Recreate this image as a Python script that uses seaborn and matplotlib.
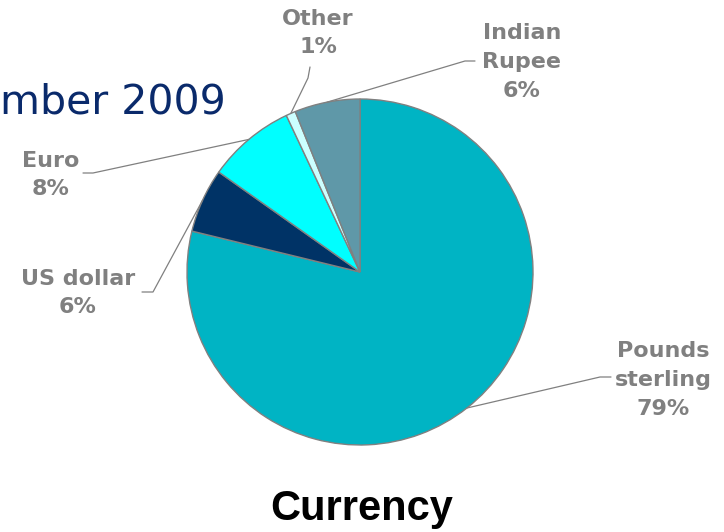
import numpy as np
import matplotlib
matplotlib.use("Agg")
import matplotlib.pyplot as plt
import seaborn as sns

# ---- data ----
categories = ["Pounds sterling", "US dollar", "Euro", "Other", "Indian Rupee"]
shares = [78.8, 6.0, 8.2, 0.9, 6.1]
label_texts = ["Pounds\nsterling\n79%", "US dollar\n6%", "Euro\n8%", "Other\n1%", "Indian\nRupee\n6%"]
colors = ["#00B4C4", "#003366", "#00FFFF", "#CCFFFF", "#5F98A8"]
chart_title = "Currency"
slide_title = "mber 2009"

sns.set_theme(style="white")
plt.rcParams["font.family"] = ["DejaVu Sans"]

W, H = 724, 532
fig = plt.figure(figsize=(W / 100, H / 100), dpi=100)
fig.patch.set_facecolor("white")

cx, cy, R = 360, 272, 173  # pixel center / radius
ax = fig.add_axes([(cx - R) / W, (H - cy - R) / H, 2 * R / W, 2 * R / H])
ax.set_facecolor("white")

wedges, _ = ax.pie(shares, colors=colors, startangle=90, counterclock=False,
                   wedgeprops=dict(edgecolor="#808080", linewidth=1.0))
ax.set_xlim(-1, 1)
ax.set_ylim(-1, 1)
ax.set_aspect("equal")
ax.axis("off")


def px2data(px, py):
    return (px - cx) / R, (cy - py) / R

# label text centres and elbow points (pixel positions)
text_pos = [(663, 380), (78, 293), (51, 175), (318, 33), (522, 62)]
elbows = [((600, 377), (611, 377)), ((153, 292), (142, 292)), ((93, 173), (83, 173)),
          ((308, 78), (310, 67)), ((465, 61), (475, 61))]

for w, txt, tp, (e1, e2) in zip(wedges, label_texts, text_pos, elbows):
    mid = np.deg2rad((w.theta1 + w.theta2) / 2)
    sx, sy = np.cos(mid), np.sin(mid)
    x1, y1 = px2data(*e1)
    x2, y2 = px2data(*e2)
    ax.plot([sx, x1, x2], [sy, y1, y2], color="#808080", lw=0.9,
            clip_on=False, zorder=3)
    fig.text(tp[0] / W, 1 - tp[1] / H, txt, ha="center", va="center",
             multialignment="center", fontsize=16, fontweight="bold",
             color="#808080", linespacing=1.55)

fig.text(226 / W, 1 - 113 / H, slide_title, ha="right", va="baseline",
         fontsize=29.5, color="#0A2A6B")
fig.text(362 / W, 1 - 520 / H, chart_title, ha="center", va="baseline",
         fontsize=30, fontweight="bold", color="black",
         family=["Liberation Sans", "DejaVu Sans"])

fig.savefig("out.png", dpi=100, facecolor="white")
